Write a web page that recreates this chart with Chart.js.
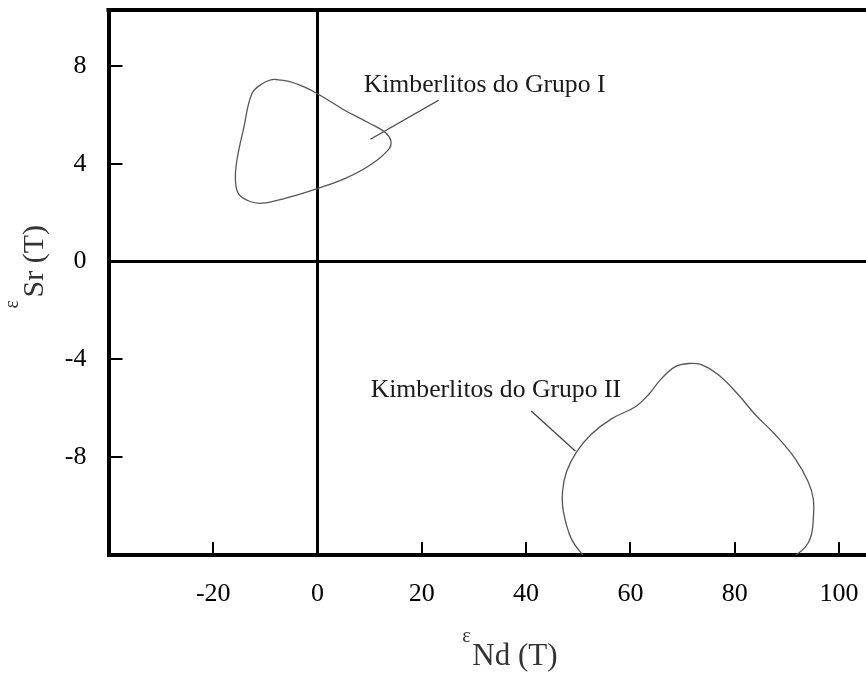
<!DOCTYPE html>
<html><head><meta charset="utf-8">
<script src="https://cdn.jsdelivr.net/npm/chart.js@4/dist/chart.umd.min.js"></script>
<style>html,body{margin:0;padding:0;background:#fff;overflow:hidden}#wrap{width:866px;height:673px}</style>
</head><body><div id="wrap"><canvas id="c" width="866" height="673"></canvas></div>
<script>
// ---- data ----
const xTicks = [-20, 0, 20, 40, 60, 80, 100];
const yTicks = [-8, -4, 0, 4, 8];
const xRange = [-40.08, 105.18];
const yRange = [-12.03, 10.31];

const group1X = [5.44, 9.86, 13.1, 14.07, 13.68, 10.41, 5.44, -0.34, -6.09, -10.69, -13.18, -15.1, -15.73, -15.48, -14.14, -12.61, -10.69, -8.97, -7.85, -5.52, -3.03, -0.34, 5.44];
const group1Y = [6.17, 5.68, 5.27, 4.94, 4.61, 4.0, 3.42, 2.97, 2.6, 2.39, 2.48, 2.76, 3.3, 4.12, 5.48, 6.87, 7.28, 7.45, 7.46, 7.38, 7.2, 6.92, 6.17];

const group2X = [51.3, 48.71, 47.17, 46.98, 47.75, 49.66, 52.54, 56.37, 60.97, 63.46, 65.95, 68.63, 71.12, 73.61, 76.87, 80.7, 83.96, 87.79, 91.62, 94.11, 95.07, 95.07, 94.69, 93.54, 91.0];
const group2Y = [-12.15, -11.38, -10.27, -9.44, -8.62, -7.81, -7.07, -6.45, -5.95, -5.46, -4.8, -4.31, -4.18, -4.23, -4.64, -5.46, -6.28, -7.1, -8.09, -9.04, -9.73, -10.56, -11.22, -11.71, -12.15];

const leader1X = [23.22, 10.14];
const leader1Y = [6.61, 5.01];
const leader2X = [40.98, 49.42];
const leader2Y = [-6.13, -7.77];

const labelTexts = ['Kimberlitos do Grupo I', 'Kimberlitos do Grupo II'];
const labelAnchorX = [8.85, 10.19];
const labelAnchorY = [6.93, -5.54];

const xTitleSup = 'ε', xTitleMain = 'Nd (T)';
const yTitleSup = 'ε', yTitleMain = 'Sr (T)';

// ---- helpers ----
const pts = (xs, ys) => xs.map((x, i) => ({ x, y: ys[i] }));
const SERIF = '"Liberation Serif", "Times New Roman", serif';

const decor = {
  id: 'decor',
  afterDraw(chart) {
    const { ctx, chartArea: a, scales } = chart;
    const xs = scales.x, ys = scales.y;
    ctx.save();
    // top frame line
    ctx.strokeStyle = '#000';
    ctx.lineWidth = 4;
    ctx.beginPath();
    ctx.moveTo(a.left - 2, a.top);
    ctx.lineTo(a.right, a.top);
    ctx.stroke();
    // inside tick marks
    ctx.lineWidth = 2;
    xTicks.forEach(v => {
      if (v === 0) return;
      const p = Math.round(xs.getPixelForValue(v));
      ctx.beginPath();
      ctx.moveTo(p, a.bottom);
      ctx.lineTo(p, a.bottom - 13);
      ctx.stroke();
    });
    yTicks.forEach(v => {
      if (v === 0) return;
      const p = Math.round(ys.getPixelForValue(v));
      ctx.beginPath();
      ctx.moveTo(a.left, p);
      ctx.lineTo(a.left + 14, p);
      ctx.stroke();
    });
    // annotation labels
    ctx.fillStyle = '#1a1a1a';
    ctx.font = '25.7px ' + SERIF;
    ctx.textAlign = 'left';
    ctx.textBaseline = 'alphabetic';
    labelTexts.forEach((t, i) => {
      ctx.fillText(t, xs.getPixelForValue(labelAnchorX[i]), ys.getPixelForValue(labelAnchorY[i]));
    });
    // x axis title
    ctx.fillStyle = '#333';
    const xt = (a.left + a.right) / 2 - 15;
    ctx.font = '20px ' + SERIF;
    ctx.fillText(xTitleSup, xt - 10, a.bottom + 87);
    ctx.font = '31px ' + SERIF;
    ctx.fillText(xTitleMain, xt, a.bottom + 110);
    // y axis title (rotated)
    ctx.save();
    ctx.translate(43, (a.top + a.bottom) / 2 + 15);
    ctx.rotate(-Math.PI / 2);
    ctx.font = '30px ' + SERIF;
    ctx.fillText(yTitleMain, 0, 0);
    ctx.font = '20px ' + SERIF;
    ctx.fillText(yTitleSup, -11, -25);
    ctx.restore();
    ctx.restore();
  }
};

const zeroGrid = c => (c.tick && c.tick.value === 0) ? '#000' : 'rgba(0,0,0,0)';

new Chart(document.getElementById('c'), {
  type: 'scatter',
  data: {
    datasets: [
      { data: pts(group1X, group1Y), showLine: true, tension: 0.4, borderColor: '#555', borderWidth: 1.3, pointRadius: 0, fill: false },
      { data: pts(group2X, group2Y), showLine: true, tension: 0.4, borderColor: '#555', borderWidth: 1.3, pointRadius: 0, fill: false },
      { data: pts(leader1X, leader1Y), showLine: true, tension: 0, borderColor: '#444', borderWidth: 1.3, pointRadius: 0, fill: false },
      { data: pts(leader2X, leader2Y), showLine: true, tension: 0, borderColor: '#444', borderWidth: 1.3, pointRadius: 0, fill: false }
    ]
  },
  options: {
    responsive: false,
    animation: false,
    devicePixelRatio: 1,
    layout: { padding: { top: 10, left: 0, right: 0, bottom: 0 } },
    plugins: { legend: { display: false }, tooltip: { enabled: false } },
    scales: {
      x: {
        type: 'linear', position: 'bottom', min: xRange[0], max: xRange[1],
        afterBuildTicks: s => { s.ticks = xTicks.map(v => ({ value: v })); },
        afterFit: s => { s.height = 118; s.paddingLeft = 0; s.paddingRight = 0; },
        grid: { color: zeroGrid, lineWidth: 3, drawTicks: false },
        border: { display: true, color: '#000', width: 4 },
        ticks: { color: '#000', font: { family: SERIF, size: 26 }, padding: 24, maxRotation: 0, autoSkip: false }
      },
      y: {
        type: 'linear', position: 'left', min: yRange[0], max: yRange[1],
        afterBuildTicks: s => { s.ticks = yTicks.map(v => ({ value: v })); },
        afterFit: s => { s.width = 108.5; s.paddingTop = 0; s.paddingBottom = 0; },
        grid: { color: zeroGrid, lineWidth: 3, drawTicks: false },
        border: { display: true, color: '#000', width: 4 },
        ticks: { color: '#000', font: { family: SERIF, size: 26 }, padding: 22, autoSkip: false }
      }
    }
  },
  plugins: [decor]
});
</script></body></html>
